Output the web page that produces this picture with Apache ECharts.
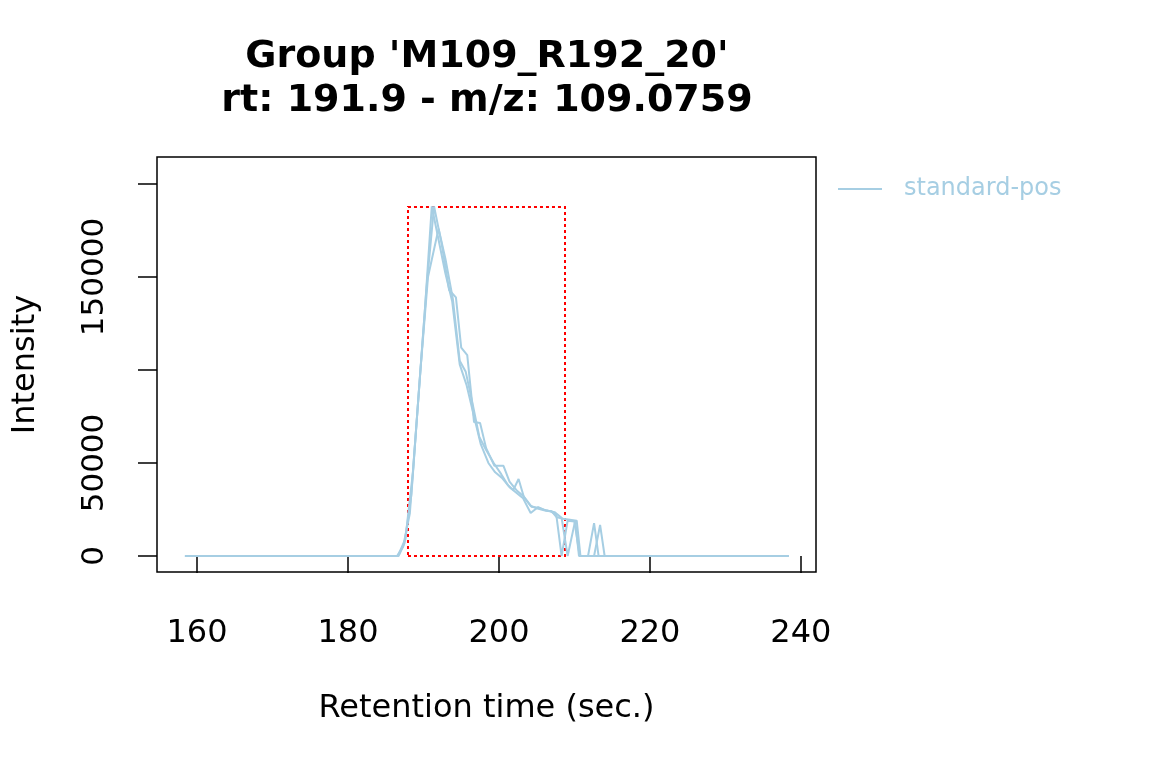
<!DOCTYPE html>
<html>
<head>
<meta charset="utf-8">
<script src="https://cdn.jsdelivr.net/npm/echarts@6/dist/echarts.min.js"></script>
<style>
html,body{margin:0;padding:0;background:#fff;}
#main{width:1152px;height:768px;}
</style>
</head>
<body>
<div id="main"></div>
<script>
// ---- data ----
const titleLine1 = "Group 'M109_R192_20'";
const titleLine2 = "rt: 191.9 - m/z: 109.0759";
const sampleName = "standard-pos";
const xTicks = [160, 180, 200, 220, 240];
const yTicks = [0, 50000, 100000, 150000, 200000];
const yTickLabels = [0, 50000, 150000];

// sample 1
const rt1 = [158.4, 186.5, 187.3, 188.2, 189.2, 190.2, 191.1, 192.0, 192.9, 193.8, 194.8, 195.7, 196.7, 197.6, 198.6, 199.5, 200.4, 201.4, 202.3, 203.2, 204.2, 205.2, 206.1, 206.9, 207.6, 208.3, 209.1, 210.0, 210.7, 238.4];
const int1 = [0, 0, 5000, 23000, 78000, 133000, 188000, 170000, 152000, 137000, 103000, 92000, 75000, 60000, 50000, 45000, 42000, 37000, 34000, 31000, 23100, 26300, 24700, 24000, 22000, 0, 19000, 18500, 0, 0];
// sample 2
const rt2 = [158.4, 186.7, 187.5, 188.4, 189.4, 190.4, 191.4, 192.4, 193.4, 194.3, 195.0, 195.8, 196.7, 197.5, 198.3, 199.4, 200.6, 201.4, 202.4, 203.3, 204.3, 205.2, 206.2, 207.4, 208.3, 209.1, 210.1, 210.6, 211.8, 212.6, 213.2, 238.4];
const int2 = [0, 0, 7000, 33000, 89000, 144000, 188000, 168000, 143000, 139000, 112000, 108000, 72000, 71500, 58000, 48500, 48500, 40000, 35000, 32000, 26500, 26000, 24500, 23500, 20500, 0, 19000, 0, 0, 17700, 0, 0];
// sample 3
const rt3 = [158.4, 186.6, 187.6, 188.6, 189.6, 190.6, 191.3, 192.0, 192.9, 193.9, 194.8, 195.6, 196.5, 197.4, 198.3, 199.3, 200.3, 201.2, 201.9, 202.6, 203.3, 204.2, 205.1, 206.1, 207.0, 207.6, 208.5, 209.4, 210.3, 210.8, 212.6, 213.4, 214.0, 238.4];
const int3 = [0, 0, 9000, 45000, 100000, 150000, 163000, 176000, 160000, 138000, 105000, 99000, 82000, 64000, 57000, 50000, 44000, 38000, 35500, 41400, 31700, 27000, 25500, 24500, 24000, 21000, 20000, 19500, 19000, 0, 0, 16700, 0, 0];

// detected peak area: rtmin, rtmax, intensity min, intensity max
const peakRt = [187.95, 208.75];
const peakInt = [0, 187600];

// ---- chart ----
const lineColor = '#A6CEE3';
const font = 'DejaVu Sans';
function pairs(xs, ys){ return xs.map((x,i)=>[x, ys[i]]); }

const chart = echarts.init(document.getElementById('main'), null, {renderer:'canvas'});

function mkSeries(xs, ys, withArea){
  const s = {
    type:'line', name: sampleName, data: pairs(xs, ys),
    showSymbol:false, symbol:'none',
    lineStyle:{color:lineColor, width:2},
    itemStyle:{color:lineColor},
    z:3, silent:true
  };
  if (withArea) {
    s.markArea = {
      silent:true,
      itemStyle:{color:'rgba(0,0,0,0)', borderColor:'#FF0000', borderWidth:2, borderType:[3,3]},
      data:[[{coord:[peakRt[0], peakInt[0]]},{coord:[peakRt[1], peakInt[1]]}]]
    };
  }
  return s;
}

chart.setOption({
  animation:false,
  backgroundColor:'#ffffff',
  textStyle:{fontFamily:font},
  graphic:[
    {type:'text', x:487, y:57, style:{text:titleLine1, font:'bold 38px "DejaVu Sans"', fill:'#000', textAlign:'center', textVerticalAlign:'middle'}},
    {type:'text', x:487, y:101, style:{text:titleLine2, font:'bold 38px "DejaVu Sans"', fill:'#000', textAlign:'center', textVerticalAlign:'middle'}}
  ],
  legend:{
    data:[sampleName],
    left:838, top:177, padding:0,
    icon:'rect', itemWidth:44, itemHeight:2,
    textStyle:{color:lineColor, fontSize:24, fontFamily:font, padding:[0,0,0,17]},
    selectedMode:false
  },
  grid:{left:157, right:336, top:157, bottom:196, show:true, borderColor:'#000', borderWidth:1.5, backgroundColor:'transparent'},
  xAxis:{
    type:'value', min:154.7, max:242.0,
    name:'Retention time (sec.)', nameLocation:'middle', nameGap:121,
    nameTextStyle:{color:'#000', fontSize:32, fontFamily:font},
    axisLine:{show:false},
    axisTick:{show:true, inside:false, length:17, customValues:xTicks, lineStyle:{color:'#000', width:1.5}},
    axisLabel:{show:true, customValues:xTicks, margin:46, color:'#000', fontSize:32, fontFamily:font},
    splitLine:{show:false}
  },
  yAxis:{
    type:'value', min:-8600, max:214500,
    name:'Intensity', nameLocation:'middle', nameGap:115, nameRotate:90,
    nameTextStyle:{color:'#000', fontSize:32, fontFamily:font},
    axisLine:{show:false},
    axisTick:{show:true, inside:false, length:19, customValues:yTicks, lineStyle:{color:'#000', width:1.5}},
    axisLabel:{show:true, customValues:yTickLabels, rotate:90, margin:47, color:'#000', fontSize:31, fontFamily:font,
      formatter:function(v){ return String(Math.round(v)); }},
    splitLine:{show:false}
  },
  series:[
    mkSeries(rt1, int1, true),
    mkSeries(rt2, int2, false),
    mkSeries(rt3, int3, false)
  ]
});
</script>
</body>
</html>
